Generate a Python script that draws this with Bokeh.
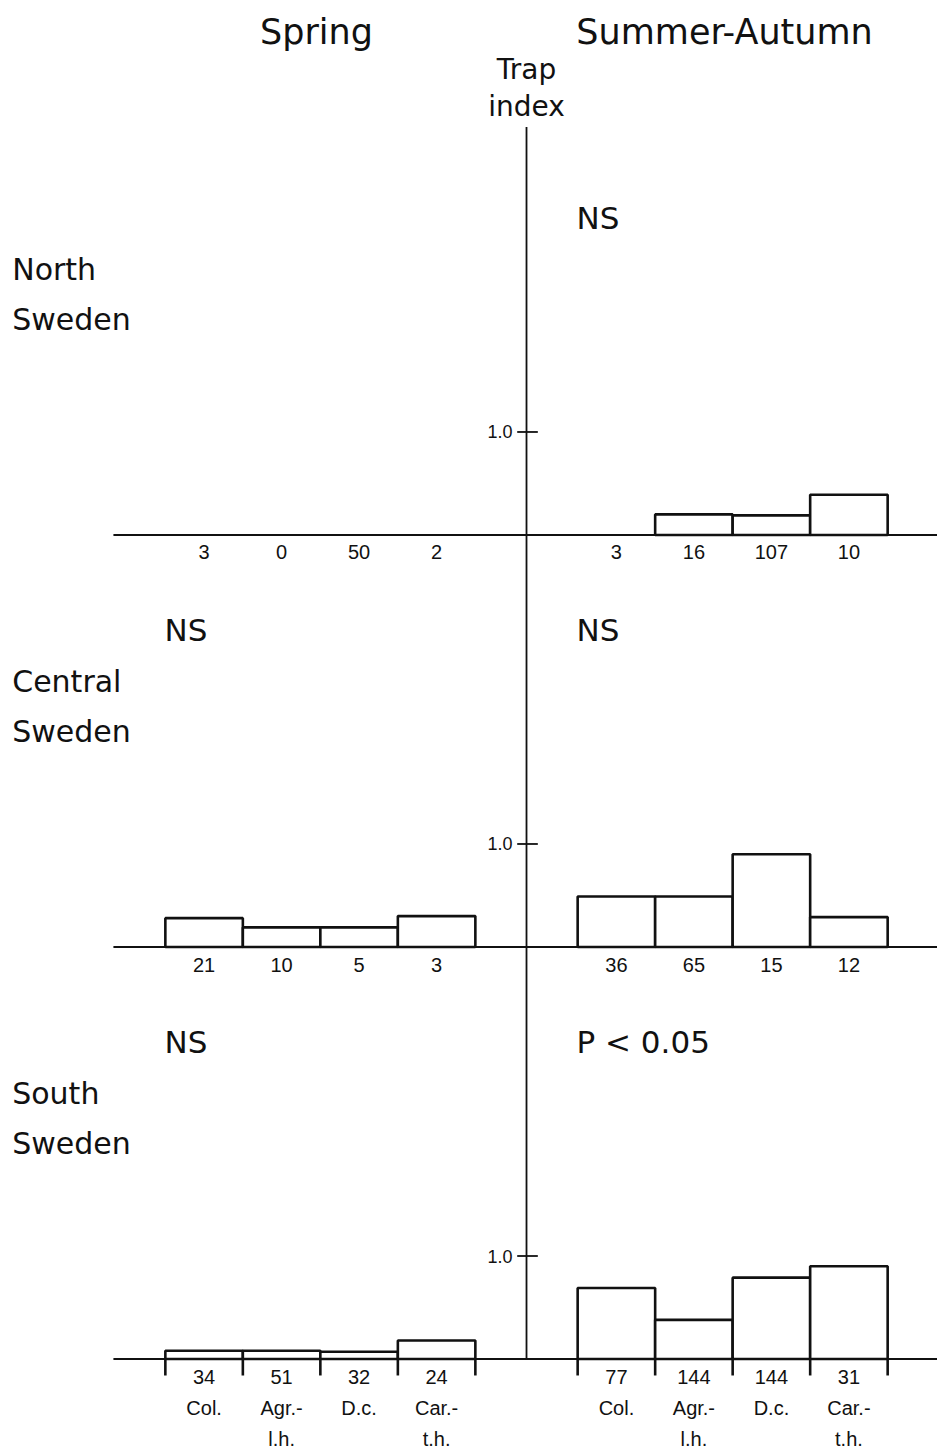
from bokeh.plotting import figure
from bokeh.models import Range1d
from bokeh.core.properties import value
from bokeh.embed import file_html
from bokeh.resources import INLINE

# ---------------- data ----------------
regions = ["North", "Central", "South"]
seasons = ["Spring", "Summer-Autumn"]
cat_line1 = ["Col.", "Agr.-", "D.c.", "Car.-"]
cat_line2 = ["", "l.h.", "", "t.h."]

north_spring = [0.0, 0.0, 0.0, 0.0]
north_summer = [0.0, 0.20, 0.19, 0.39]
central_spring = [0.28, 0.19, 0.19, 0.30]
central_summer = [0.49, 0.49, 0.90, 0.29]
south_spring = [0.08, 0.08, 0.07, 0.18]
south_summer = [0.69, 0.38, 0.79, 0.90]

north_spring_n = ["3", "0", "50", "2"]
north_summer_n = ["3", "16", "107", "10"]
central_spring_n = ["21", "10", "5", "3"]
central_summer_n = ["36", "65", "15", "12"]
south_spring_n = ["34", "51", "32", "24"]
south_summer_n = ["77", "144", "144", "31"]

north_sig = ["", "NS"]
central_sig = ["NS", "NS"]
south_sig = ["NS", "P < 0.05"]

y_tick_value = 1.0
y_tick_label = "1.0"

# ---------------- layout ----------------
BIG = "DejaVu Sans"
SMALL = "Liberation Sans"
GAP = 0.66          # gap between the vertical axis and the first bar
BAND = 4.0          # vertical distance between panel baselines
AXIS_TOP = 11.96
INK = "#111111"

panels = [
    ("North", 2 * BAND, north_spring, north_summer, north_spring_n, north_summer_n, north_sig),
    ("Central", 1 * BAND, central_spring, central_summer, central_spring_n, central_summer_n, central_sig),
    ("South", 0 * BAND, south_spring, south_summer, south_spring_n, south_summer_n, south_sig),
]

p = figure(width=937, height=1451,
           x_range=Range1d(-6.787, 5.303), y_range=Range1d(-0.898, 13.189),
           x_axis_type=None, y_axis_type=None,
           output_backend="svg", toolbar_location=None, min_border=0)
p.outline_line_color = None
p.grid.visible = False
p.background_fill_color = "white"
p.border_fill_color = "white"

n = len(cat_line1)
spring_left = [-GAP - n + i for i in range(n)]
summer_left = [GAP + i for i in range(n)]

def txt(x, y, t, font, size, align="center", baseline="middle"):
    p.text(x=x, y=y, text=t, text_font=value(font), text_font_size=size,
           text_align=align, text_baseline=baseline, text_color=INK)

# vertical axis
p.segment(x0=[0], y0=[0], x1=[0], y1=[AXIS_TOP], line_color=INK, line_width=1.8)

for name, base, spr, sua, spr_n, sua_n, sig in panels:
    # baseline
    p.segment(x0=[-5.33], y0=[base], x1=[5.4], y1=[base], line_color=INK, line_width=1.8)
    # y tick 1.0
    p.segment(x0=[-0.12], y0=[base + y_tick_value], x1=[0.146], y1=[base + y_tick_value],
              line_color=INK, line_width=1.8)
    txt([-0.18], [base + y_tick_value], [y_tick_label], SMALL, "18px", align="right")
    # bars
    for lefts, vals, counts in ((spring_left, spr, spr_n), (summer_left, sua, sua_n)):
        L = [l for l, v in zip(lefts, vals) if v > 0]
        T = [base + v for v in vals if v > 0]
        if L:
            p.quad(left=L, right=[l + 1 for l in L], bottom=[base] * len(L), top=T,
                   fill_color="white", line_color=INK, line_width=2.6)
        txt([l + 0.5 for l in lefts], [base - 0.17] * n, counts, SMALL, "20px")
    # significance
    if sig[0]:
        txt([-4.67], [base + 3.08], [sig[0]], BIG, "31px", align="left")
    if sig[1]:
        txt([0.645], [base + 3.08], [sig[1]], BIG, "31px", align="left")
    # region label
    txt([-6.636], [base + 2.58], [name], BIG, "30px", align="left")
    txt([-6.636], [base + 2.09], ["Sweden"], BIG, "30px", align="left")

# stubs below the South baseline and category labels
edges = spring_left + [spring_left[-1] + 1] + summer_left + [summer_left[-1] + 1]
p.segment(x0=edges, y0=[0] * len(edges), x1=edges, y1=[-0.16] * len(edges),
          line_color=INK, line_width=2.6)
centers = [l + 0.5 for l in spring_left + summer_left]
txt(centers, [-0.48] * len(centers), cat_line1 * 2, SMALL, "20px")
txt(centers, [-0.78] * len(centers), cat_line2 * 2, SMALL, "20px")

# headers
txt([-2.71], [12.88], [seasons[0]], BIG, "35px")
txt([2.555], [12.88], [seasons[1]], BIG, "35px")
txt([0.0], [12.52], ["Trap"], BIG, "28px")
txt([0.0], [12.16], ["index"], BIG, "28px")

open("out.html", "w").write(file_html(p, INLINE))
